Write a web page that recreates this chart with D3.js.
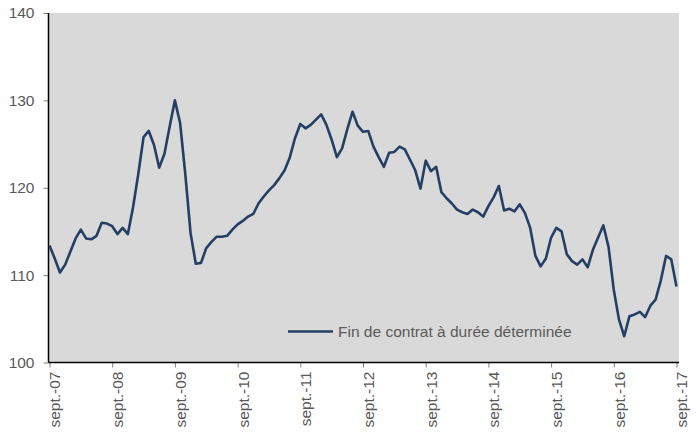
<!DOCTYPE html>
<html>
<head>
<meta charset="utf-8">
<script src="https://cdn.jsdelivr.net/npm/d3@7"></script>
<style>
  html, body { margin: 0; padding: 0; background: #ffffff; }
  svg { display: block; }
  text { font-family: "Liberation Sans", Arial, sans-serif; }
</style>
</head>
<body>
<svg id="chart" width="696" height="437"></svg>
<script>
// Monthly index, sept. 2007 -> sept. 2017
const seriesName = "Fin de contrat à durée déterminée";
const startYear = 2007;
const values = [
  113.4, 111.9, 110.3, 111.2, 112.7, 114.2, 115.2, 114.2, 114.1, 114.5, 116.0, 115.9,
  115.6, 114.7, 115.4, 114.7, 117.8, 121.6, 125.8, 126.5, 124.9, 122.3, 123.9, 127.0,
  130.0, 127.4, 121.5, 114.8, 111.3, 111.4, 113.1, 113.8, 114.4, 114.4, 114.5, 115.2,
  115.8, 116.2, 116.7, 117.0, 118.2, 119.0, 119.7, 120.3, 121.1, 122.0, 123.5, 125.7,
  127.3, 126.8, 127.2, 127.8, 128.4, 127.2, 125.5, 123.5, 124.5, 126.7, 128.7, 127.1,
  126.4, 126.5, 124.7, 123.5, 122.4, 124.0, 124.1, 124.7, 124.4, 123.2, 122.0, 119.9,
  123.1, 121.9, 122.4, 119.5, 118.8, 118.2, 117.5, 117.2, 117.0, 117.5, 117.2, 116.7,
  117.9, 118.9, 120.2, 117.4, 117.6, 117.3, 118.1, 117.1, 115.4, 112.2, 111.0, 111.9,
  114.3, 115.4, 115.0, 112.4, 111.6, 111.2, 111.8, 110.9, 112.9, 114.3, 115.7, 113.2,
  108.3, 104.9, 103.0, 105.3, 105.5, 105.8, 105.2, 106.5, 107.2, 109.4, 112.2, 111.8,
  108.7
];
const xTickIndex = [0, 12, 24, 36, 48, 60, 72, 84, 96, 108, 120];
const xTickLabels = ["sept.-07", "sept.-08", "sept.-09", "sept.-10", "sept.-11", "sept.-12",
                     "sept.-13", "sept.-14", "sept.-15", "sept.-16", "sept.-17"];
const yTicks = [100, 110, 120, 130, 140];

const svg = d3.select("#chart");
const plot = { left: 48.5, right: 679, top: 13, bottom: 362.5 };
const textColor = "#595959";
const lineColor = "#243f63";

const x = d3.scaleLinear().domain([0, 120]).range([49.5, 676.5]);
const y = d3.scaleLinear().domain([100, 140]).range([plot.bottom, plot.top]);

svg.append("rect")
  .attr("x", plot.left).attr("y", plot.top)
  .attr("width", plot.right - plot.left).attr("height", plot.bottom - plot.top)
  .attr("fill", "#d9d9d9");

// Y axis
const yAxis = svg.append("g")
  .attr("transform", `translate(${plot.left},0)`)
  .call(d3.axisLeft(y).tickValues(yTicks).tickSize(5).tickPadding(9).tickFormat(d3.format("d")));
yAxis.select(".domain").remove();
yAxis.selectAll(".tick line").attr("stroke", "#808080");
yAxis.selectAll(".tick text")
  .attr("fill", textColor).style("font-size", "15.5px");
svg.append("line")
  .attr("x1", plot.left).attr("x2", plot.left)
  .attr("y1", plot.top).attr("y2", plot.bottom)
  .attr("stroke", "#000").attr("stroke-width", 1.5);

// X axis
const xAxis = svg.append("g")
  .attr("transform", `translate(0,${plot.bottom})`)
  .call(d3.axisBottom(x).tickValues(xTickIndex).tickSize(5)
        .tickFormat((d, i) => xTickLabels[i]));
xAxis.select(".domain").remove();
xAxis.selectAll(".tick line").attr("stroke", "#808080");
xAxis.selectAll(".tick text")
  .attr("fill", textColor).style("font-size", "15.5px")
  .attr("text-anchor", "end")
  .attr("transform", "rotate(-90)")
  .attr("x", -9).attr("y", 0).attr("dy", "0.35em")
  .attr("dx", 0)
  .attr("transform", "translate(5,0) rotate(-90)");
svg.append("line")
  .attr("x1", plot.left).attr("x2", plot.right)
  .attr("y1", plot.bottom).attr("y2", plot.bottom)
  .attr("stroke", "#000").attr("stroke-width", 1.5);

// Line
const line = d3.line().x((d, i) => x(i)).y(d => y(d));
svg.append("path")
  .datum(values)
  .attr("d", line)
  .attr("fill", "none")
  .attr("stroke", lineColor)
  .attr("stroke-width", 2.6)
  .attr("stroke-linejoin", "round");

// Legend
const legend = svg.append("g").attr("transform", "translate(288,331.5)");
legend.append("line")
  .attr("x1", 0).attr("x2", 45).attr("y1", 0).attr("y2", 0)
  .attr("stroke", lineColor).attr("stroke-width", 2.6);
legend.append("text")
  .attr("x", 50).attr("y", 0).attr("dy", "0.35em")
  .attr("fill", textColor).style("font-size", "15.5px")
  .text(seriesName);
</script>
</body>
</html>
